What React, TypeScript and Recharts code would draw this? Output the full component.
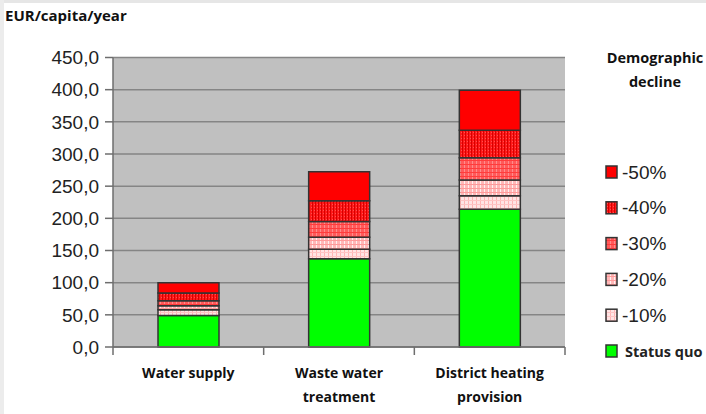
import React from 'react';
import { Bar, BarChart, CartesianGrid, Legend, XAxis, YAxis } from 'recharts';

const categories = ['Water supply', 'Waste water treatment', 'District heating provision'];
const statusQuo = [49, 137, 214];
const decline10 = [9, 15, 21];
const decline20 = [6, 18.5, 24.5];
const decline30 = [8, 24.5, 34.5];
const decline40 = [12, 32.5, 43];
const decline50 = [16, 45, 62];
const yTicks = [0, 50, 100, 150, 200, 250, 300, 350, 400, 450];
const legendOrder = ['-50%', '-40%', '-30%', '-20%', '-10%', 'Status quo'];

const labelLines: Record<string, string[]> = {
  'Water supply': ['Water supply'],
  'Waste water treatment': ['Waste water', 'treatment'],
  'District heating provision': ['District heating', 'provision'],
};

const data = categories.map((name, i) => ({
  name,
  sq: statusQuo[i],
  d10: decline10[i],
  d20: decline20[i],
  d30: decline30[i],
  d40: decline40[i],
  d50: decline50[i],
}));

const series = [
  { key: 'sq', name: 'Status quo', fill: '#00FF00' },
  { key: 'd10', name: '-10%', fill: 'url(#p10)' },
  { key: 'd20', name: '-20%', fill: 'url(#p20)' },
  { key: 'd30', name: '-30%', fill: 'url(#p30)' },
  { key: 'd40', name: '-40%', fill: 'url(#p40)' },
  { key: 'd50', name: '-50%', fill: '#FF0000' },
];

const boldFont = '"Open Sans", sans-serif';
const plainFont = '"Liberation Sans", Arial, sans-serif';

// category label plus tick marks on the band edges (Excel style)
function CategoryTick({ x, y, payload, index }: any) {
  const lines = labelLines[payload.value] || [payload.value];
  const half = payload.offset || 75;
  const isLast = index === categories.length - 1;
  return (
    <g>
      <line x1={x - half} x2={x - half} y1={y} y2={y + 8} stroke="#6e6e6e" strokeWidth={1.5} />
      {isLast && <line x1={x + half} x2={x + half} y1={y} y2={y + 8} stroke="#6e6e6e" strokeWidth={1.5} />}
      <text x={x} y={y} textAnchor="middle" fontFamily={boldFont} fontWeight={700} fontSize={14} fill="#111">
        {lines.map((l, i) => (
          <tspan key={l} x={x} dy={i === 0 ? 31 : 24}>
            {l}
          </tspan>
        ))}
      </text>
    </g>
  );
}

function LegendBox({ payload }: any) {
  const items = [...(payload || [])].sort(
    (a: any, b: any) => legendOrder.indexOf(a.value) - legendOrder.indexOf(b.value)
  );
  return (
    <svg width={116} height={360} style={{ display: 'block' }}>
      <text x={65} y={43} textAnchor="middle" fontFamily={boldFont} fontWeight={700} fontSize={14.5} fill="#111">
        Demographic
      </text>
      <text x={65} y={67} textAnchor="middle" fontFamily={boldFont} fontWeight={700} fontSize={14.5} fill="#111">
        decline
      </text>
      {items.map((e: any, i: number) => {
        const cy = 152 + i * 35.8;
        const isBold = e.value === 'Status quo';
        return (
          <g key={e.value}>
            <rect x={16} y={cy - 6} width={11} height={12} fill={e.color} stroke="#333" strokeWidth={1.5} />
            <text
              x={isBold ? 35 : 32}
              y={cy}
              dominantBaseline="central"
              fontFamily={isBold ? boldFont : plainFont}
              fontWeight={isBold ? 700 : 400}
              fontSize={isBold ? 14.5 : 19}
              fill="#222"
            >
              {e.value}
            </text>
          </g>
        );
      })}
    </svg>
  );
}

export default function App() {
  return (
    <div style={{ position: 'absolute', left: 0, top: 0, width: 706, height: 414, background: '#fff', overflow: 'hidden' }}>
      <div style={{ position: 'absolute', left: 0, top: 0, width: 706, height: 3, background: '#e6e6e6' }} />
      <div style={{ position: 'absolute', left: 0, top: 0, width: 4, height: 414, background: '#ececec' }} />
      <div
        style={{
          position: 'absolute',
          left: 5,
          top: 5,
          fontFamily: boldFont,
          fontWeight: 700,
          fontSize: 15,
          color: '#111',
        }}
      >
        EUR/capita/year
      </div>
      <BarChart
        width={706}
        height={414}
        data={data}
        margin={{ top: 57.5, right: 141, bottom: 0, left: 0 }}
        barSize={61}
        style={{ position: 'absolute', left: 0, top: 0 }}
      >
        <defs>
          <pattern id="p10" width="4" height="4" patternUnits="userSpaceOnUse">
            <rect width="4" height="4" fill="#FFE4E4" />
            <rect width="1" height="4" fill="#FFB4B4" />
            <rect width="4" height="1" fill="#FFC4C4" />
          </pattern>
          <pattern id="p20" width="4" height="4" patternUnits="userSpaceOnUse">
            <rect width="4" height="4" fill="#FFB8B8" />
            <rect width="1" height="4" fill="#FFF0F0" />
            <rect width="4" height="1" fill="#FF9A9A" />
          </pattern>
          <pattern id="p30" width="4" height="4" patternUnits="userSpaceOnUse">
            <rect width="4" height="4" fill="#FF5A5A" />
            <rect width="1" height="4" fill="#FF8C8C" />
            <rect width="4" height="1" fill="#FF3C3C" />
          </pattern>
          <pattern id="p40" width="3" height="3" patternUnits="userSpaceOnUse">
            <rect width="3" height="3" fill="#FF1A1A" />
            <rect width="1" height="3" fill="#D80000" />
            <rect x="2" width="1" height="1" fill="#FF5050" />
          </pattern>
        </defs>
        <CartesianGrid vertical={false} fill="#C0C0C0" stroke="#858585" strokeWidth={1.5} />
        <XAxis
          dataKey="name"
          tick={<CategoryTick />}
          tickLine={false}
          tickSize={0}
          tickMargin={0}
          interval={0}
          axisLine={{ stroke: '#6e6e6e', strokeWidth: 1.5 }}
          height={67}
        />
        <YAxis
          domain={[0, 450]}
          ticks={yTicks}
          interval={0}
          width={113}
          tickFormatter={(v: number) => v.toFixed(1).replace('.', ',')}
          tick={{ fontFamily: plainFont, fontSize: 19, fill: '#222' }}
          tickLine={{ stroke: '#6e6e6e', strokeWidth: 1.5 }}
          tickSize={8}
          tickMargin={6}
          axisLine={{ stroke: '#6e6e6e', strokeWidth: 1.5 }}
        />
        <YAxis
          yAxisId="frame"
          orientation="right"
          domain={[0, 450]}
          tick={false}
          tickLine={false}
          width={0}
          axisLine={{ stroke: '#858585', strokeWidth: 1.5 }}
        />
        {series.map((s) => (
          <Bar
            key={s.key}
            dataKey={s.key}
            name={s.name}
            stackId="a"
            fill={s.fill}
            stroke="#333"
            strokeWidth={1.5}
            isAnimationActive={false}
          />
        ))}
        <Legend
          content={<LegendBox />}
          layout="vertical"
          verticalAlign="middle"
          align="center"
          wrapperStyle={{ position: 'absolute', left: 590, top: 20, width: 116, height: 360 }}
        />
      </BarChart>
    </div>
  );
}
